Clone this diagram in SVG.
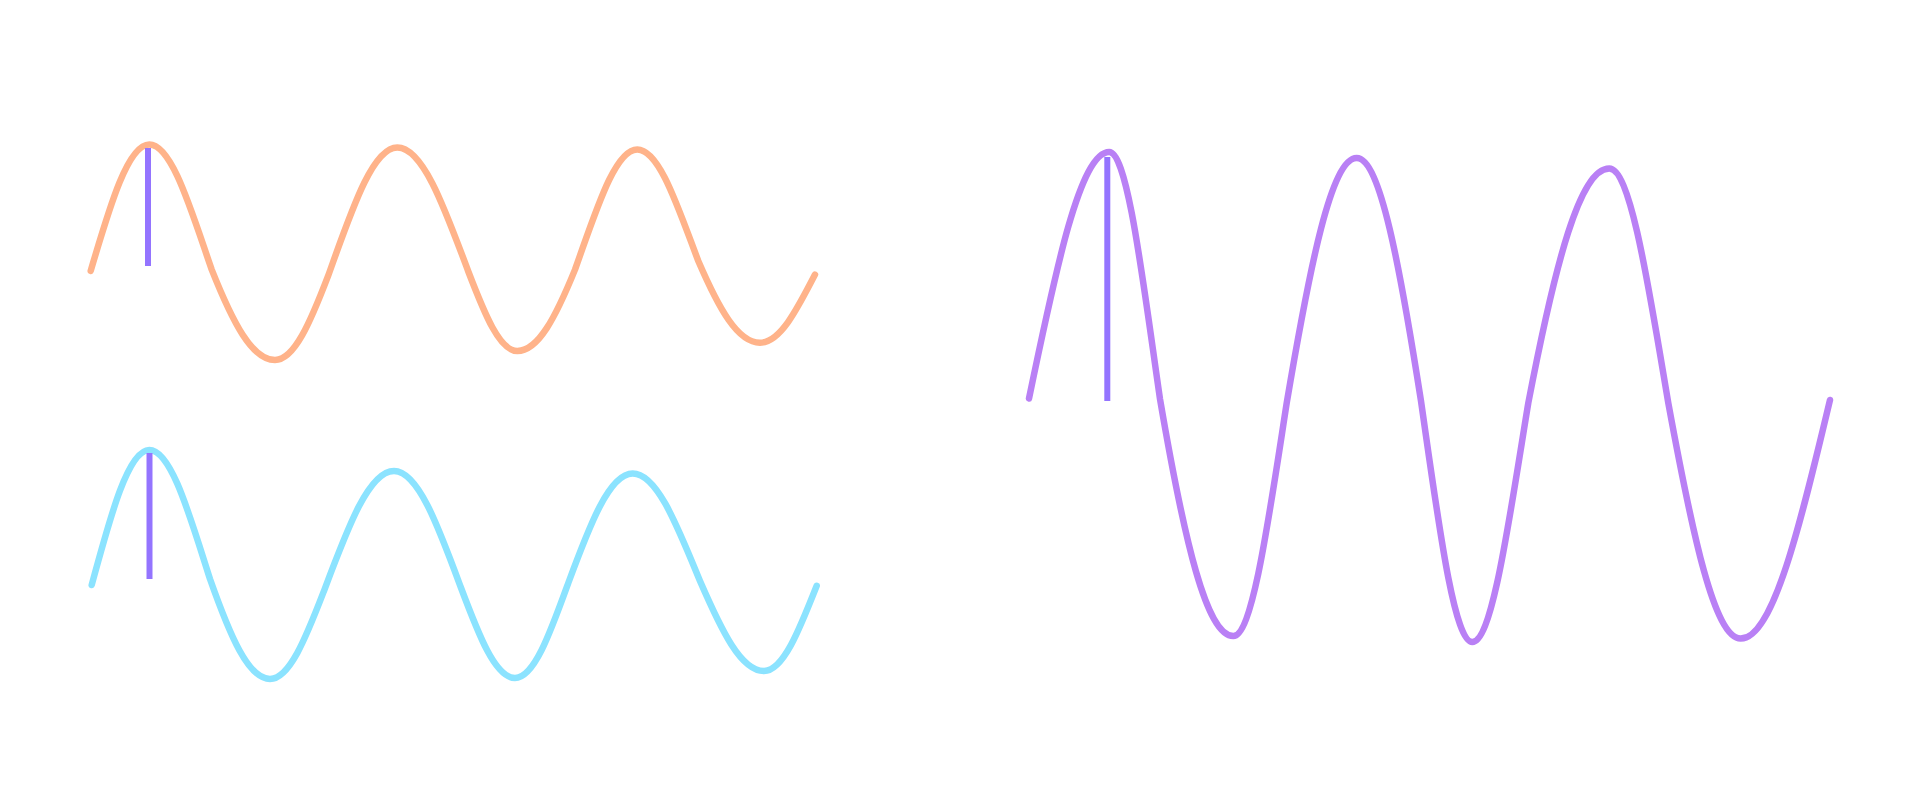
<svg xmlns="http://www.w3.org/2000/svg" width="1920" height="800" viewBox="0 0 1920 800">
<style>
.wave{fill:none;stroke-width:6.5;stroke-linecap:round;stroke-linejoin:round}
.mark{stroke:#9474FF;stroke-width:6;stroke-linecap:butt}
</style>
<rect width="1920" height="800" fill="#ffffff"/>
<g id="wave-orange">
<path class="wave" stroke="#FFB38A" d="M90.7,270.8 C110.3,204.5 128.1,144.6 149.3,144.6 C171.9,144.6 190.9,209.8 211.7,269.6 C232.8,322.6 252.1,360 275,360 C294.3,360 310.5,322 328.3,275.4 C351.3,211.3 372.3,147.5 397.3,147.5 C423,147.5 444.6,207.9 468.3,271.5 C484.7,314.2 499.6,351 517.3,351 C538.2,351 555.7,317.1 575,269.6 C595.8,211.7 614.7,149.4 637.3,149.4 C659.4,149.4 677.9,207.3 698.3,261 C718.9,308.7 737.7,342.7 760,342.7 C779.9,342.7 796.6,310.4 815,274.6"/>
<line class="mark" x1="148" y1="148" x2="148" y2="266"/>
</g>
<g id="wave-cyan">
<path class="wave" stroke="#8BE3FF" d="M91.7,585 C110.9,514.1 128.4,450 149.3,450 C171.3,450 189.7,515.6 210,579 C230,635.7 248.3,679 270,679 C289.3,679 305.5,638.8 323.3,592.7 C346.9,530 368.4,471 394,471 C418.1,471 438.4,526.8 460.7,587 C478.8,635.2 495.3,678 515,678 C534.3,678 550.5,632.1 568.3,583 C589.8,524.8 609.4,473.5 632.7,473.5 C657.1,473.5 677.5,526.6 700,581 C721.4,630.2 740.8,671 764,671 C783.1,671 799.1,630.5 816.7,585.8"/>
<line class="mark" x1="149.5" y1="453" x2="149.5" y2="579"/>
</g>
<g id="wave-purple">
<path class="wave" stroke="#B980F5" d="M1029,398.5 C1055.8,269.1 1080.2,152 1109.3,152 C1127.7,152 1143.1,282.8 1160,399 C1184.5,542.3 1206.8,636 1233.3,636 C1252.6,636 1268.9,517.7 1286.7,403 C1310.1,264.9 1331.4,158 1356.7,158 C1380,158 1399.5,264.1 1421,401 C1438.1,519.7 1453.7,642 1472.3,642 C1492.6,642 1509.6,516.2 1528.3,403 C1555.4,262.3 1580,168.5 1609.3,168.5 C1630.7,168.5 1648.6,286.7 1668.3,403 C1692.5,534.8 1714.5,638.6 1740.7,638.6 C1773,638.6 1800.2,525.3 1830,400"/>
<line class="mark" x1="1107.3" y1="157" x2="1107.3" y2="401"/>
</g>
</svg>
